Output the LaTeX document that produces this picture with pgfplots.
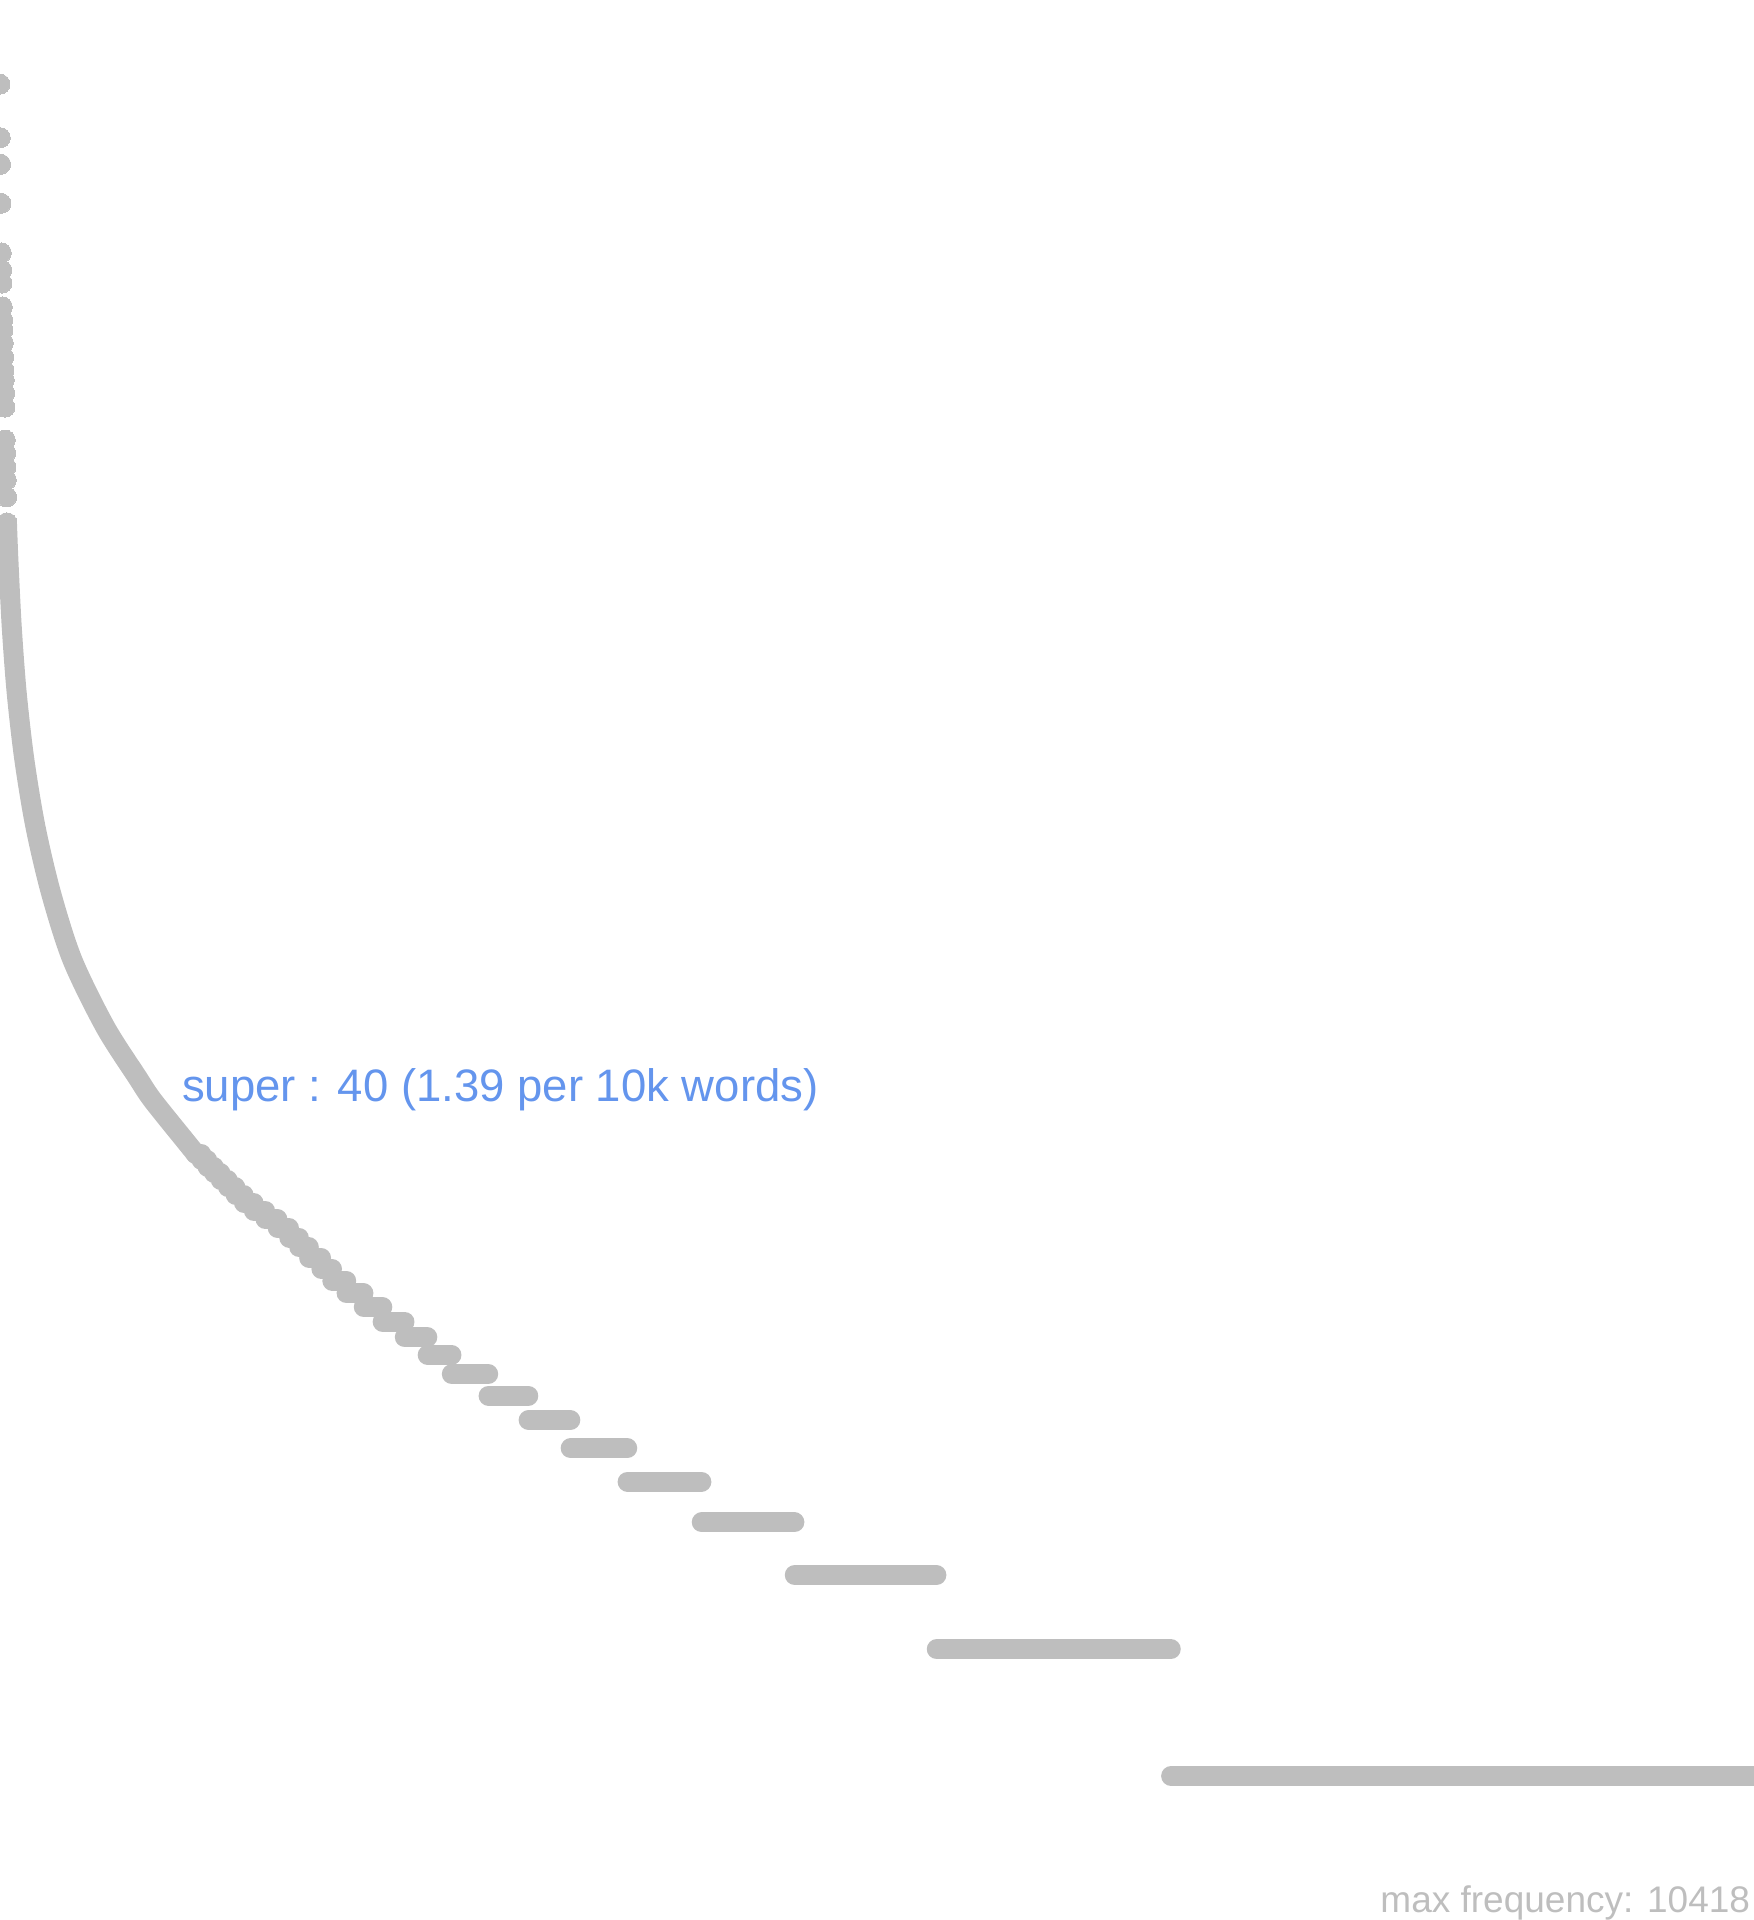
\documentclass[border=0pt]{standalone}
\usepackage{pgfplots}
\pgfplotsset{compat=1.18}
\usepackage{fontspec}
\setmainfont{Liberation Sans}
\definecolor{dotgray}{HTML}{BEBEBE}
\definecolor{cfblue}{HTML}{6495ED}
\begin{document}
\begin{tikzpicture}
\useasboundingbox (0,0) rectangle (350.8pt,384pt);
\begin{axis}[at={(0,0)}, anchor=south west, scale only axis,
  width=350.8pt, height=384pt, hide axis,
  xmin=1, xmax=5300, ymode=log, ymin=0.455, ymax=16505, clip=true]
% highest-ranked words, one dot each
\addplot[dotgray, only marks, mark=*, mark size=2pt,
  mark options={solid, fill=dotgray, draw=dotgray, line width=0pt}] table {
r f
1 10418
2 7773
3 6721
4 5429
5 4139
6 3771
7 3511
8 3081
9 2869
10 2716
11 2529
12 2344
13 2182
14 2066
15 1924
16 1781
17 1488
18 1387
19 1284
20 1196
21 1090
22 946
};
% dense middle part of the curve
\addplot[dotgray, line width=4pt, line cap=round, line join=round, smooth, tension=0.5] table {
r f
22 946
26.4 772
36.5 535.4
51.5 373.1
74.7 258.7
108.2 179.4
155.1 125.0
219.7 86.7
318.8 60.1
415.5 45.7
461.7 40.3
558.4 32.4
593 30.0
};
% frequency levels: first and last rank of each frequency
\addplot[dotgray, line width=4pt, line cap=round, unbounded coords=jump] table {
r f
592 30
609 30
609 nan
610 29
627 29
627 nan
628 28
647 28
647 nan
648 27
667 27
667 nan
668 26
689 26
689 nan
690 25
712 25
712 nan
713 24
737 24
737 nan
738 23
767 23
767 nan
768 22
802 22
802 nan
803 21
839 21
839 nan
840 20
874 20
874 nan
875 19
904 19
904 nan
905 18
934 18
934 nan
935 17
971 17
971 nan
972 16
1004 16
1004 nan
1005 15
1047 15
1047 nan
1048 14
1099 14
1099 nan
1100 13
1156 13
1156 nan
1157 12
1223 12
1223 nan
1224 11
1292 11
1292 nan
1293 10
1365 10
1365 nan
1366 9
1476 9
1476 nan
1477 8
1597 8
1597 nan
1598 7
1724 7
1724 nan
1725 6
1896 6
1896 nan
1897 5
2120 5
2120 nan
2121 4
2401 4
2401 nan
2402 3
2830 3
2830 nan
2831 2
3538 2
3538 nan
3539 1
5300 1
};
\node[anchor=base west, inner sep=0pt, text=cfblue, font=\fontsize{9.1}{10}\selectfont]
  at (axis cs:548,40) {super : 40 (1.39 per 10k words)};
\node[anchor=base east, inner sep=0pt, text=dotgray, font=\fontsize{7.4}{8}\selectfont]
  at (axis cs:5291,0.4735) {max frequency: 10418};
\end{axis}
\end{tikzpicture}
\end{document}
